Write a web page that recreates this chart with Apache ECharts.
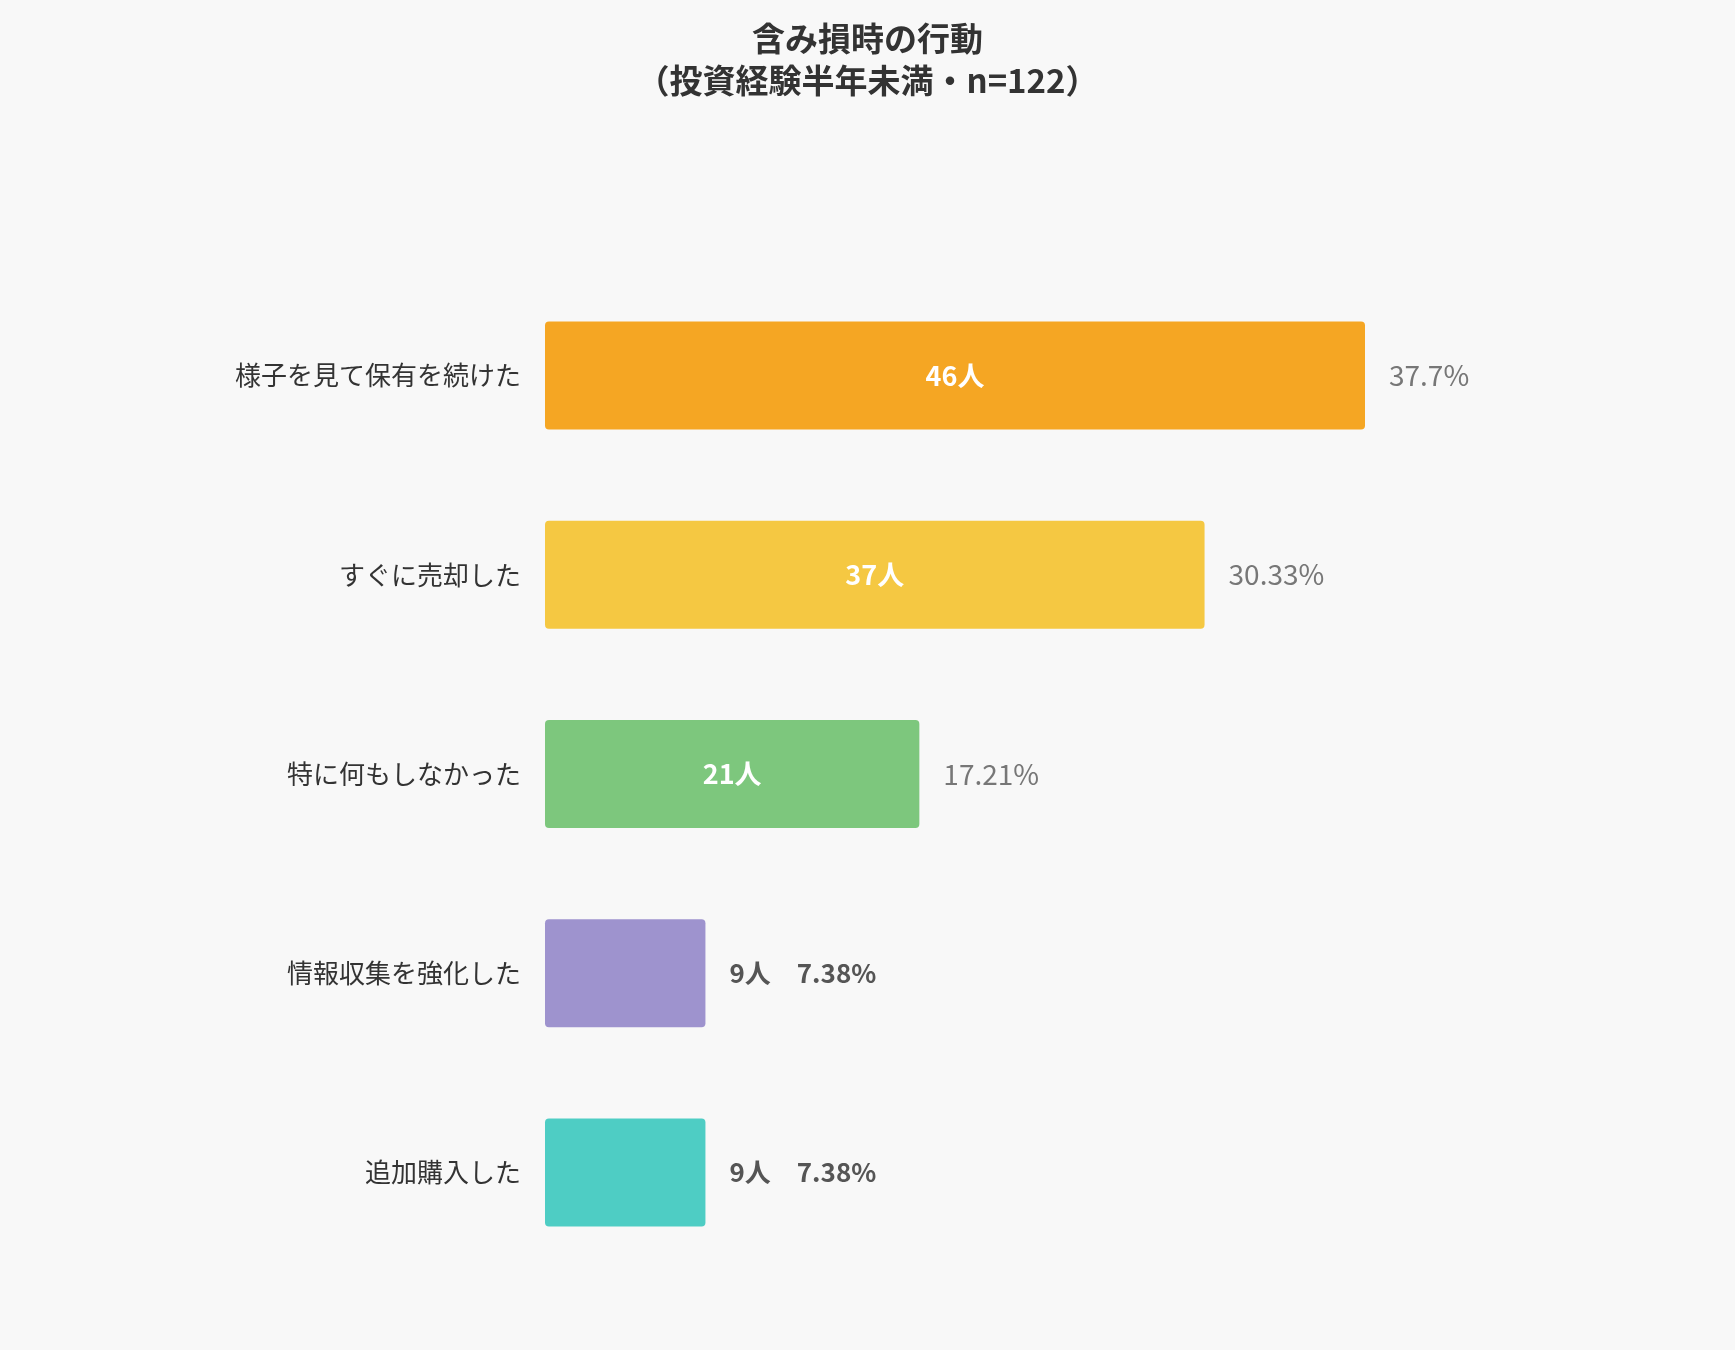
<!DOCTYPE html>
<html><head><meta charset="utf-8">
<script src="https://cdn.jsdelivr.net/npm/echarts@6/dist/echarts.min.js"></script>
<style>html,body{margin:0;background:#f8f8f8}#c{width:1735px;height:1350px}</style>
</head><body><div id="c"></div>
<script>
const categories = ['様子を見て保有を続けた','すぐに売却した','特に何もしなかった','情報収集を強化した','追加購入した'];
const counts = [46,37,21,9,9];
const percents = ['37.7%','30.33%','17.21%','7.38%','7.38%'];
const colors = ['#F5A623','#F5C842','#7DC77D','#9E93CE','#4ECDC4'];
const insideMin = 15;
const font = '"Noto Sans CJK JP", sans-serif';
const chart = echarts.init(document.getElementById('c'));
chart.setOption({
  backgroundColor:'#f8f8f8',
  title:{text:'含み損時の行動\n（投資経験半年未満・n=122）',left:'center',top:12,
    textStyle:{fontFamily:font,fontSize:33,fontWeight:'bold',color:'#333',lineHeight:42}},
  grid:{left:545,right:370,top:276,bottom:78},
  xAxis:{type:'value',min:0,max:46,show:false},
  yAxis:{type:'category',inverse:true,data:categories,axisLine:{show:false},axisTick:{show:false},
    axisLabel:{fontFamily:font,fontSize:26,color:'#333',margin:24}},
  series:[
    {type:'bar',barWidth:108,animation:false,
     data:counts.map((v,i)=>({value:v,itemStyle:{color:colors[i],borderRadius:4},
       label:{show:v>=insideMin,position:'inside',formatter:v+'人',color:'#fff',fontWeight:'bold',fontSize:27,fontFamily:font}}))},
    {type:'bar',barWidth:108,barGap:'-100%',animation:false,silent:true,
     data:counts.map((v,i)=>({value:v,itemStyle:{color:'rgba(0,0,0,0)'},
       label:{show:true,position:'right',distance:24,fontFamily:font,
         formatter: v>=insideMin ? percents[i] : v+'人　'+percents[i],
         color: v>=insideMin ? '#777' : '#555', fontWeight: v>=insideMin ? 'normal':'bold',
         fontSize: v>=insideMin ? 28 : 26}}))}
  ]
});
</script></body></html>
